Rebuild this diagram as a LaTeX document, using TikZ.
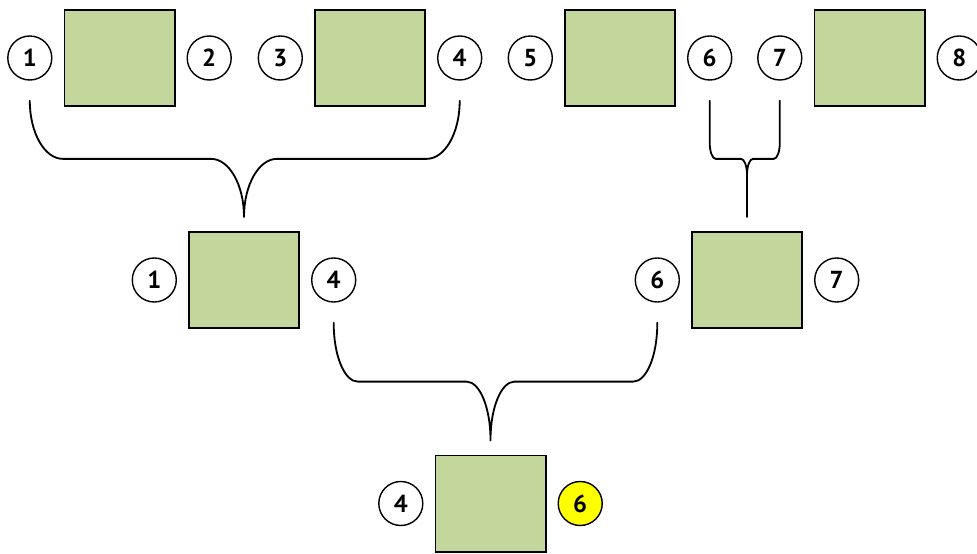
\documentclass[tikz,border=0pt]{standalone}
\usepackage{fontspec}
\setmainfont{PT Sans}
\usetikzlibrary{positioning,calc}

\definecolor{boxgreen}{HTML}{C3D69B}
\definecolor{markyellow}{HTML}{FFFF00}

\tikzset{
  box/.style={draw,line width=1.4pt,fill=boxgreen,minimum width=2.75cm,minimum height=2.4cm,inner sep=0pt},
  num/.style={draw,circle,line width=1pt,minimum size=1.1cm,inner sep=0pt,font=\fontsize{17.5}{20}\selectfont\bfseries},
  brace/.style={line width=1.3pt,line cap=round}
}

% curly join: #1,#2 upper circles, #3 lower box, #4/#5 corner radii
\newcommand{\mergebrace}[5]{%
  \draw[brace] let \p1=($(#1.south)+(0,-20)$), \p2=($(#2.south)+(0,-20)$),
      \p3=($(#3.north)+(0,14)$), \n1={0.5*(\y1+\y3)} in
    (\p1) -- (\x1,\n1+#5)
      arc[start angle=180,end angle=270,x radius=#4,y radius=#5]
      -- (\x3-#4,\n1)
      arc[start angle=90,end angle=0,x radius=#4,y radius=#5]
      -- (\p3)
    (\p2) -- (\x2,\n1+#5)
      arc[start angle=0,end angle=-90,x radius=#4,y radius=#5]
      -- (\x3+#4,\n1)
      arc[start angle=90,end angle=180,x radius=#4,y radius=#5]
      -- (\p3);
}

\begin{document}
\begin{tikzpicture}[x=0.025cm,y=0.025cm]
  \useasboundingbox (0,0) rectangle (977,553);

  % first row
  \node[box] (t1) at (119.5,495) {};
  \node[box] (t2) at (370,495) {};
  \node[box] (t3) at (620,495) {};
  \node[box] (t4) at (869.5,495) {};
  \node[num,left=0.275cm of t1] (c1) {1};
  \node[num,right=0.275cm of t1] (c2) {2};
  \node[num,left=0.275cm of t2] (c3) {3};
  \node[num,right=0.275cm of t2] (c4) {4};
  \node[num,left=0.275cm of t3] (c5) {5};
  \node[num,right=0.275cm of t3] (c6) {6};
  \node[num,left=0.275cm of t4] (c7) {7};
  \node[num,right=0.275cm of t4] (c8) {8};

  % second row
  \node[box] (m1) at (244,273) {};
  \node[box] (m2) at (747,273) {};
  \node[num,left=0.275cm of m1] (d1) {1};
  \node[num,right=0.275cm of m1] (d4) {4};
  \node[num,left=0.275cm of m2] (d6) {6};
  \node[num,right=0.275cm of m2] (d7) {7};

  % last row
  \node[box] (b) at (490.5,49.5) {};
  \node[num,left=0.275cm of b] (e4) {4};
  \node[num,right=0.275cm of b,fill=markyellow] (e6) {6};

  % joins
  \mergebrace{c1}{c4}{m1}{0.825cm}{1.45cm}
  \mergebrace{c6}{c7}{m2}{0.15cm}{0.4cm}
  \mergebrace{d4}{d6}{b}{0.6cm}{1.45cm}
\end{tikzpicture}
\end{document}
